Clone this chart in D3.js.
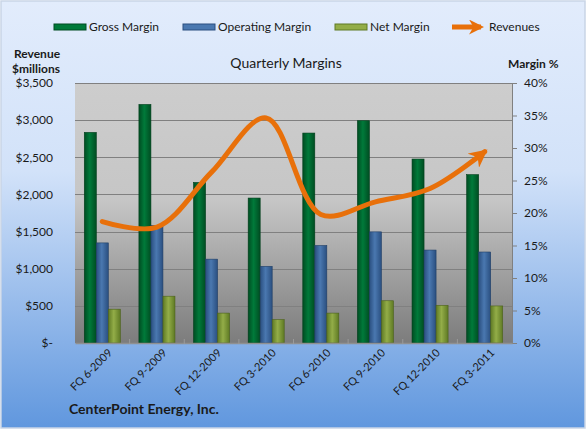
<!DOCTYPE html>
<html>
<head>
<meta charset="utf-8">
<script src="https://cdn.jsdelivr.net/npm/d3@7"></script>
<style>
  body { margin: 0; background: #fff; }
  svg text { font-family: Lato, "Open Sans", sans-serif; fill: #1a1a1a; }
</style>
</head>
<body>
<svg width="587" height="430"></svg>
<script>
var categories = ['FQ 6-2009', 'FQ 9-2009', 'FQ 12-2009', 'FQ 3-2010',
                  'FQ 6-2010', 'FQ 9-2010', 'FQ 12-2010', 'FQ 3-2011'];
var grossMargin = [32.4, 36.7, 24.7, 22.3, 32.3, 34.2, 28.3, 25.9];
var operatingMargin = [15.4, 18.1, 12.9, 11.8, 15.0, 17.1, 14.3, 14.0];
var netMargin = [5.2, 7.2, 4.6, 3.6, 4.6, 6.5, 5.8, 5.7];
var revenues = [1635, 1560, 2300, 3030, 1730, 1900, 2080, 2575];
var revenueTicks = [0, 500, 1000, 1500, 2000, 2500, 3000, 3500];
var marginTicks = [0, 5, 10, 15, 20, 25, 30, 35, 40];
var seriesNames = ['Gross Margin', 'Operating Margin', 'Net Margin'];

var svg = d3.select('svg'),
    width = 587,
    height = 430,
    plot = { left: 75, right: 512, top: 83, bottom: 343 };

var colors = {
    'Gross Margin': ['#004d22', '#007a3a', '#004d22'],
    'Operating Margin': ['#2a4f80', '#4a78b0', '#2a4f80'],
    'Net Margin': ['#5f7a24', '#93ad48', '#5f7a24']
};

var defs = svg.append('defs');

// chart background
var bg = defs.append('linearGradient').attr('id', 'bg').attr('x1', 0).attr('y1', 0).attr('x2', 0).attr('y2', 1);
bg.append('stop').attr('offset', '0%').attr('stop-color', '#e2ecfc');
bg.append('stop').attr('offset', '40%').attr('stop-color', '#d2e2f9');
bg.append('stop').attr('offset', '100%').attr('stop-color', '#6097de');

var pg = defs.append('linearGradient').attr('id', 'plotbg').attr('x1', 0).attr('y1', 0).attr('x2', 0).attr('y2', 1);
pg.append('stop').attr('offset', '0%').attr('stop-color', '#cdcdcd');
pg.append('stop').attr('offset', '45%').attr('stop-color', '#c6c6c6');
pg.append('stop').attr('offset', '100%').attr('stop-color', '#7c7c7c');

seriesNames.forEach(function (s, i) {
    var g = defs.append('linearGradient').attr('id', 'bar' + i).attr('x1', 0).attr('y1', 0).attr('x2', 1).attr('y2', 0);
    g.append('stop').attr('offset', '0%').attr('stop-color', colors[s][0]);
    g.append('stop').attr('offset', '45%').attr('stop-color', colors[s][1]);
    g.append('stop').attr('offset', '100%').attr('stop-color', colors[s][2]);
});

// arrow heads: tip sits on the end point
function arrowMarker(id, size) {
    defs.append('marker')
        .attr('id', id)
        .attr('viewBox', '0 0 10 10')
        .attr('refX', 8).attr('refY', 5)
        .attr('markerWidth', size).attr('markerHeight', size)
        .attr('markerUnits', 'strokeWidth')
        .attr('orient', 'auto')
        .append('path').attr('d', 'M0,0 L10,5 L0,10 L3,5 Z').attr('fill', '#e8700a');
}
arrowMarker('arrow', 3.6);
arrowMarker('arrowLegend', 3);

svg.append('rect').attr('x', 1).attr('y', 1).attr('width', width - 3).attr('height', height - 3)
    .attr('fill', 'url(#bg)').attr('stroke', '#c9d5e6').attr('stroke-width', 1.5);

var x0 = d3.scaleBand().domain(categories).range([plot.left, plot.right]);
var bw = x0.bandwidth();
var x1 = d3.scaleBand().domain(seriesNames).range([bw / 2 - bw * 0.33, bw / 2 + bw * 0.33]);
var yMargin = d3.scaleLinear().domain([0, 40]).range([plot.bottom, plot.top]);
var yRev = d3.scaleLinear().domain([0, 3500]).range([plot.bottom, plot.top]);

svg.append('rect')
    .attr('x', plot.left).attr('y', plot.top)
    .attr('width', plot.right - plot.left).attr('height', plot.bottom - plot.top)
    .attr('fill', 'url(#plotbg)');

// gridlines
svg.append('g').selectAll('line').data(revenueTicks.slice(1)).enter().append('line')
    .attr('x1', plot.left).attr('x2', plot.right)
    .attr('y1', function (d) { return Math.round(yRev(d)) + 0.5; })
    .attr('y2', function (d) { return Math.round(yRev(d)) + 0.5; })
    .attr('stroke', '#808080').attr('stroke-width', 1);

// bars
var bars = [grossMargin, operatingMargin, netMargin];
var groups = svg.append('g').selectAll('g').data(categories).enter().append('g')
    .attr('transform', function (d) { return 'translate(' + x0(d) + ',0)'; });
groups.selectAll('rect')
    .data(function (d, i) { return seriesNames.map(function (s, k) { return { s: s, k: k, v: bars[k][i] }; }); })
    .enter().append('rect')
    .attr('x', function (d) { return x1(d.s); })
    .attr('width', x1.bandwidth())
    .attr('y', function (d) { return yMargin(d.v); })
    .attr('height', function (d) { return plot.bottom - yMargin(d.v); })
    .attr('fill', function (d) { return 'url(#bar' + d.k + ')'; })
    .attr('stroke', function (d) { return d3.color(colors[d.s][0]).darker(0.6); })
    .attr('stroke-width', 0.6);

// left axis
var leftAxis = d3.axisLeft(yRev).tickValues(revenueTicks).tickSize(0).tickPadding(22)
    .tickFormat(function (d) { return d === 0 ? '$-' : '$' + d3.format(',')(d); });
var la = svg.append('g').attr('transform', 'translate(' + plot.left + ',0)').call(leftAxis);
la.select('.domain').remove();
la.selectAll('text').style('font-size', '12px').attr('fill', '#1a1a1a');

// right axis
var rightAxis = d3.axisRight(yMargin).tickValues(marginTicks).tickSize(5).tickPadding(7)
    .tickFormat(function (d) { return d + '%'; });
var ra = svg.append('g').attr('transform', 'translate(' + plot.right + ',0)').call(rightAxis);
ra.select('.domain').attr('stroke', '#808080');
ra.selectAll('.tick line').attr('stroke', '#808080');
ra.selectAll('text').style('font-size', '12px').attr('fill', '#1a1a1a');

// bottom axis
var bottomAxis = d3.axisBottom(x0).tickSize(0).tickPadding(6);
var ba = svg.append('g').attr('transform', 'translate(0,' + plot.bottom + ')').call(bottomAxis);
ba.select('.domain').attr('stroke', '#909090').attr('stroke-width', 1.5);
ba.selectAll('text')
    .style('font-size', '11px')
    .attr('fill', '#1a1a1a')
    .attr('text-anchor', 'end')
    .attr('dy', '0.3em')
    .attr('transform', 'translate(4,4) rotate(-45)');
svg.append('g').selectAll('line').data(categories.slice(1)).enter().append('line')
    .attr('x1', function (d) { return x0(d); }).attr('x2', function (d) { return x0(d); })
    .attr('y1', plot.bottom - 4).attr('y2', plot.bottom + 1)
    .attr('stroke', '#9a9a9a');

// revenue line
var line = d3.line()
    .x(function (d, i) { return x0(categories[i]) + bw / 2; })
    .y(function (d) { return yRev(d); })
    .curve(d3.curveCatmullRom.alpha(0.5));
svg.append('path').datum(revenues)
    .attr('d', line)
    .attr('fill', 'none')
    .attr('stroke', '#e8700a')
    .attr('stroke-width', 5)
    .attr('stroke-linecap', 'round')
    .attr('marker-end', 'url(#arrow)');

// titles
svg.append('text').attr('x', 286).attr('y', 68).attr('text-anchor', 'middle')
    .style('font-size', '14px').text('Quarterly Margins');
svg.append('text').attr('x', 14).attr('y', 58).style('font-size', '12px').style('font-weight', 'bold').text('Revenue');
svg.append('text').attr('x', 12).attr('y', 73).style('font-size', '12px').style('font-weight', 'bold').text('$millions');
svg.append('text').attr('x', 508).attr('y', 68).style('font-size', '12px').style('font-weight', 'bold').text('Margin %');
svg.append('text').attr('x', 69).attr('y', 414).style('font-size', '14px').style('font-weight', 'bold').text('CenterPoint Energy, Inc.');

// legend
var legendX = [54, 183, 335];
var legend = svg.append('g');
seriesNames.forEach(function (s, k) {
    legend.append('rect').attr('x', legendX[k]).attr('y', 24).attr('width', 32).attr('height', 6)
        .attr('fill', colors[s][1]).attr('stroke', colors[s][0]).attr('stroke-width', 1);
    legend.append('text').attr('x', legendX[k] + 35).attr('y', 31).style('font-size', '12px').text(s);
});
legend.append('line').attr('x1', 452).attr('x2', 481).attr('y1', 27).attr('y2', 27)
    .attr('stroke', '#e8700a').attr('stroke-width', 5).attr('marker-end', 'url(#arrowLegend)');
legend.append('text').attr('x', 489).attr('y', 31).style('font-size', '12px').text('Revenues');
</script>
</body>
</html>
